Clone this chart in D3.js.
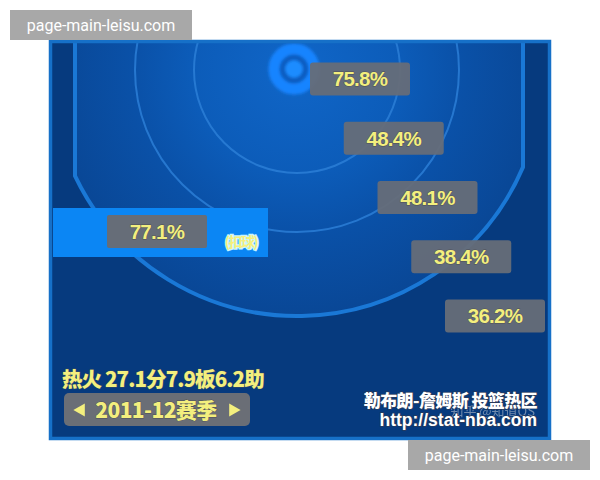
<!DOCTYPE html>
<html><head><meta charset="utf-8">
<script src="https://cdn.jsdelivr.net/npm/d3@7"></script>
<style>html,body{margin:0;padding:0;background:#fff;}svg{display:block}</style>
</head><body><div id="c"></div>
<script>
// ---- data ----
const zoneNames = ["篮下", "近距离", "中距离", "长两分", "三分"];
const zonePct = [75.8, 48.4, 48.1, 38.4, 36.2];
const dunkPct = [77.1];
const dunkLabel = ["(扣球)"];
const teamLine = ["热火 27.1分7.9板6.2助"];
const seasonLabel = ["2011-12赛季"];
const creditLines = ["勒布朗-詹姆斯 投篮热区", "http://stat-nba.com"];
const watermarkText = ["page-main-leisu.com"];
const zhihuMark = ["知乎 @知道OS"];

const W = 600, H = 480;
const svg = d3.select("#c").append("svg").attr("width", W).attr("height", H);
const defs = svg.append("defs");

const P = {x0: 49, y0: 40, x1: 551, y1: 440};
const bx = 297, by = 70;          // basket
const R3 = 246, r1 = 103, r2 = 162;
const cornerL = 75, cornerR = 523;

defs.append("clipPath").attr("id", "panel").append("rect")
  .attr("x", P.x0).attr("y", P.y0).attr("width", P.x1 - P.x0).attr("height", P.y1 - P.y0);

const rg = defs.append("radialGradient").attr("id", "inner")
  .attr("gradientUnits", "userSpaceOnUse").attr("cx", bx).attr("cy", by).attr("r", R3);
rg.append("stop").attr("offset", 0).attr("stop-color", "#1066c8");
rg.append("stop").attr("offset", 0.42).attr("stop-color", "#0c5cb9");
rg.append("stop").attr("offset", 0.66).attr("stop-color", "#0a51a8");
rg.append("stop").attr("offset", 1).attr("stop-color", "#094796");

const g = svg.append("g").attr("clip-path", "url(#panel)");
g.append("rect").attr("x", P.x0).attr("y", P.y0).attr("width", P.x1 - P.x0).attr("height", P.y1 - P.y0)
  .attr("fill", "#063a7e");

// three-point shape
const a0 = Math.acos((bx - cornerL) / R3);
const yl = by + Math.sqrt(R3 * R3 - (bx - cornerL) ** 2);
const tp = d3.path();
tp.moveTo(cornerL, P.y0 - 10);
tp.lineTo(cornerL, yl);
tp.arc(bx, by, R3, Math.PI - a0, Math.acos((cornerR - bx) / R3), true);
tp.lineTo(cornerR, P.y0 - 10);
g.append("path").attr("d", tp.toString() + "Z").attr("fill", "url(#inner)");

// inner circles
[r2, r1].forEach(r => {
  g.append("circle").attr("cx", bx).attr("cy", by).attr("r", r)
    .attr("fill", "none").attr("stroke", "#2c7ed6").attr("stroke-width", 2).attr("opacity", 0.85);
});
g.append("path").attr("d", tp.toString()).attr("fill", "none")
  .attr("stroke", "#1a78d6").attr("stroke-width", 4);

// backboard + rim
const blur = defs.append("filter").attr("id", "blur").attr("x", "-50%").attr("y", "-50%").attr("width", "200%").attr("height", "200%");
blur.append("feGaussianBlur").attr("stdDeviation", 1.5);
g.append("line").attr("x1", 255).attr("x2", 346).attr("y1", 52).attr("y2", 52)
  .attr("stroke", "#3a78c8").attr("stroke-width", 4).attr("filter", "url(#blur)");
g.append("circle").attr("cx", bx - 3).attr("cy", by - 1).attr("r", 20)
  .attr("fill", "#0d5cc0").attr("stroke", "#1684ff").attr("stroke-width", 11).attr("filter", "url(#blur)");
g.append("circle").attr("cx", bx - 3).attr("cy", by - 1).attr("r", 9)
  .attr("fill", "#1a8cff").attr("filter", "url(#blur)");

// border
svg.append("rect").attr("x", P.x0 + 1.5).attr("y", P.y0 + 1.5).attr("width", P.x1 - P.x0 - 3).attr("height", P.y1 - P.y0 - 3)
  .attr("fill", "none").attr("stroke", "#1670c8").attr("stroke-width", 3.5);

// zone labels
const idx = d3.range(zonePct.length);
const xs = d3.scaleLinear().domain([0, zonePct.length - 1]).range([360, 495]);
const ys = d3.scaleLinear().domain([0, zonePct.length - 1]).range([79, 316]);
const bw = 100, bh = 33;
const numFont = "'Liberation Sans', Arial, sans-serif";
const lab = svg.append("g").selectAll("g").data(idx).join("g")
  .attr("transform", i => `translate(${xs(i)},${ys(i)})`);
lab.append("rect").attr("x", -bw / 2).attr("y", -bh / 2).attr("width", bw).attr("height", bh).attr("rx", 3)
  .attr("fill", "#666d78").attr("opacity", 0.95);
lab.append("text").attr("text-anchor", "middle").attr("dy", "0.36em")
  .attr("font-family", numFont).attr("font-weight", "bold").attr("font-size", 20.5)
  .attr("letter-spacing", "-0.7px")
  .attr("fill", "#f3ef7e").attr("stroke", "#4e4f55").attr("stroke-width", 0.8).attr("paint-order", "stroke")
  .text(i => zonePct[i].toFixed(1) + "%");

// dunk bar
const dg = svg.append("g");
dg.append("rect").attr("x", 53).attr("y", 208).attr("width", 215).attr("height", 49).attr("fill", "#0b86f4");
dg.selectAll("g.d").data(dunkPct).join("g").attr("class", "d").each(function (v) {
  const s = d3.select(this);
  s.append("rect").attr("x", 107).attr("y", 215).attr("width", 100).attr("height", 33).attr("rx", 2).attr("fill", "#666d78");
  s.append("text").attr("x", 157).attr("y", 231.5).attr("dy", "0.36em").attr("text-anchor", "middle")
    .attr("font-family", numFont).attr("font-weight", "bold").attr("font-size", 20.5).attr("letter-spacing", "-0.7px")
    .attr("fill", "#f3ef7e").attr("stroke", "#4e4f55").attr("stroke-width", 0.8).attr("paint-order", "stroke")
    .text(v.toFixed(1) + "%");
});
dg.append("text").attr("x", 241).attr("y", 242).attr("dy", "0.36em").attr("text-anchor", "middle")
  .attr("font-family", "'Noto Sans CJK SC', sans-serif").attr("font-weight", "bold").attr("font-size", 14)
  .attr("letter-spacing", "-1.5px")
  .attr("fill", "#f6f07a").attr("stroke", "#c8f4ff").attr("stroke-width", 2.4).attr("paint-order", "stroke")
  .text(dunkLabel[0]);

// bottom-left text
const cjk = "'Noto Sans CJK SC', 'Liberation Sans', sans-serif";
svg.append("text").attr("x", 62).attr("y", 387)
  .attr("font-family", cjk).attr("font-weight", "900").attr("font-size", 20.5).attr("letter-spacing", "-0.9px")
  .attr("fill", "#f3ef7e").attr("stroke", "#3a4a60").attr("stroke-width", 0.8).attr("paint-order", "stroke")
  .text(teamLine[0]);
svg.append("rect").attr("x", 64).attr("y", 393).attr("width", 186).attr("height", 33).attr("rx", 5).attr("fill", "#6a6e76");
const tri = d3.symbol().type(d3.symbolTriangle).size(75);
svg.append("path").attr("d", tri()).attr("transform", "translate(81,410) rotate(-90)").attr("fill", "#f3ef7e");
svg.append("path").attr("d", tri()).attr("transform", "translate(233,410) rotate(90)").attr("fill", "#f3ef7e");
svg.append("text").attr("x", 156).attr("y", 410).attr("dy", "0.36em").attr("text-anchor", "middle")
  .attr("font-family", cjk).attr("font-weight", "900").attr("font-size", 21).attr("letter-spacing", "-0.6px")
  .attr("fill", "#f3ef7e").attr("stroke", "#4e4f55").attr("stroke-width", 0.8).attr("paint-order", "stroke")
  .text(seasonLabel[0]);

// credits
svg.append("text").attr("x", 535).attr("y", 416).attr("text-anchor", "end")
  .attr("font-family", cjk).attr("font-size", 13).attr("fill", "#c8ccd4").attr("opacity", 0.55)
  .text(zhihuMark[0]);
const crFont = ["'Noto Sans CJK SC', sans-serif", "'Liberation Sans', Arial, sans-serif"];
const crSize = [17, 17.5];
svg.selectAll("text.cr").data(creditLines).join("text").attr("class", "cr")
  .attr("x", 537).attr("y", (d, i) => 407 + i * 19).attr("text-anchor", "end")
  .attr("font-family", (d, i) => crFont[i]).attr("font-weight", "900").attr("font-size", (d, i) => crSize[i])
  .attr("letter-spacing", (d, i) => i === 0 ? "-0.6px" : "0px")
  .attr("fill", "#ffffff").attr("stroke", "#2a3a5a").attr("stroke-width", 1.4).attr("paint-order", "stroke")
  .text(d => d);

// watermarks
[[10, 10], [408, 440]].forEach(([x, y]) => {
  svg.append("rect").attr("x", x).attr("y", y).attr("width", 182).attr("height", 30).attr("fill", "#a8a8a8");
  svg.append("text").attr("x", x + 91).attr("y", y + 15).attr("dy", "0.36em").attr("text-anchor", "middle")
    .attr("font-family", "Roboto, 'Noto Sans', sans-serif").attr("font-size", 16).attr("fill", "#ffffff")
    .text(watermarkText[0]);
});
</script></body></html>
